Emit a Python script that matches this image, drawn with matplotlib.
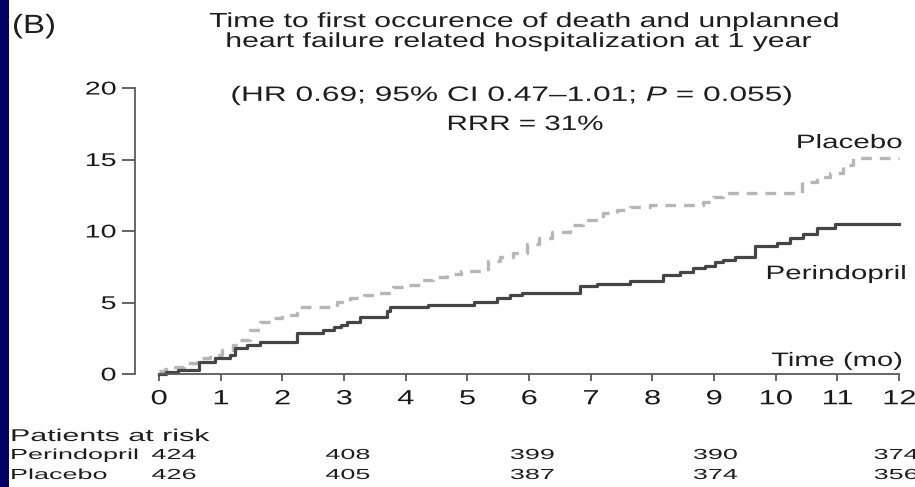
# Kaplan-Meier style cumulative event curves with a patients-at-risk table
import matplotlib
matplotlib.use("Agg")
from matplotlib import pyplot as plt
from matplotlib.transforms import blended_transform_factory, Affine2D
from matplotlib.patches import Rectangle
from matplotlib.patheffects import AbstractPathEffect

plt.rcParams['font.family'] = ['Liberation Sans', 'DejaVu Sans']
plt.rcParams['mathtext.fontset'] = 'custom'
plt.rcParams['mathtext.rm'] = 'Liberation Sans'
plt.rcParams['mathtext.it'] = 'Liberation Sans:italic'

# event times (months) and cumulative incidence (%) after each step
peri_t = [0, 0.12, 0.30, 0.65, 0.91, 1.15, 1.23, 1.42, 1.64, 2.24, 2.66, 2.83,
          2.95, 3.05, 3.26, 3.70, 3.75, 4.36, 5.10, 5.48, 5.69, 5.89, 6.83,
          7.10, 7.64, 8.18, 8.45, 8.66, 8.85, 9.02, 9.15, 9.34, 9.66, 10.02,
          10.23, 10.44, 10.67, 10.96, 12.0]
peri_y = [0.0, 0.15, 0.30, 0.86, 1.10, 1.33, 1.80, 2.00, 2.26, 2.86, 3.07, 3.30,
          3.45, 3.66, 3.98, 4.40, 4.68, 4.83, 5.06, 5.30, 5.52, 5.69, 6.15,
          6.30, 6.53, 6.92, 7.16, 7.39, 7.58, 7.81, 8.00, 8.20, 8.95, 9.18,
          9.49, 9.79, 10.19, 10.47, 10.47]

plac_t = [0, 0.10, 0.20, 0.40, 0.62, 0.83, 1.02, 1.20, 1.27, 1.48, 1.64, 1.85,
          2.00, 2.24, 2.89, 3.10, 3.33, 3.55, 3.80, 4.02, 4.24, 4.45, 4.67,
          4.90, 5.33, 5.53, 5.74, 5.97, 6.17, 6.37, 6.66, 6.87, 7.20, 7.42,
          7.64, 7.97, 8.82, 8.98, 9.14, 10.42, 10.67, 10.88, 11.09, 11.25, 12.0]
plac_y = [0.20, 0.35, 0.50, 0.79, 1.10, 1.33, 1.68, 2.00, 2.38, 3.08, 3.66, 3.92,
          4.13, 4.71, 5.06, 5.30, 5.52, 5.69, 6.06, 6.22, 6.57, 6.76, 6.99,
          7.22, 7.92, 8.16, 8.48, 9.09, 9.49, 9.95, 10.42, 10.77, 11.28, 11.47,
          11.66, 11.82, 12.05, 12.36, 12.68, 13.45, 13.80, 14.08, 14.62, 15.08, 15.08]

x_ticks = list(range(0, 13))
y_ticks = [0, 5, 10, 15, 20]

risk_months = [0, 3, 6, 9, 12]
risk_peri = [424, 408, 399, 390, 374]
risk_plac = [426, 405, 387, 374, 356]
# small horizontal nudges (months) for the table columns
risk_dx = [0.24, 0.06, 0.05, 0.02, -0.05]


class HStretch(AbstractPathEffect):
    """Draw glyphs wider than normal, pinned at the left/centre/right of each line."""

    def __init__(self, sx, frac=0.0):
        super().__init__()
        self.sx = sx
        self.frac = frac

    def draw_path(self, renderer, gc, tpath, affine, rgbFace=None):
        if len(tpath.vertices):
            x0 = self.frac * tpath.get_extents().x1
        else:
            x0 = 0
        st = Affine2D().translate(-x0, 0).scale(self.sx, 1).translate(x0, 0)
        renderer.draw_path(gc, tpath, st + affine, rgbFace)


FRAC = {'left': 0.0, 'center': 0.5, 'right': 1.0}


def wide(t, sx):
    t.set_path_effects([HStretch(sx, FRAC[t.get_horizontalalignment()])])
    return t


W, H = 915, 487
fig = plt.figure(figsize=(W / 100, H / 100), dpi=100)

# navy strip down the left edge
fig.patches.append(Rectangle((0, 0), 9 / W, 1, transform=fig.transFigure,
                             facecolor='#000066', edgecolor='none'))

ax = fig.add_axes([159 / W, 113 / H, 740 / W, 286 / H])
ax.set_xlim(0, 12)
ax.set_ylim(0, 20)

ax.step(plac_t, plac_y, where='post', color='#b6b6b6', lw=2.4,
        dashes=(3.2, 2.4), clip_on=False)
ax.step(peri_t, peri_y, where='post', color='#454545', lw=2.3, clip_on=False)

axis_col = '#5a5a5a'
for s in ['top', 'right']:
    ax.spines[s].set_visible(False)
ax.spines['left'].set_position(('outward', 17.3))
ax.spines['left'].set_bounds(0, 20)
ax.spines['bottom'].set_bounds(0, 12)
for s in ['left', 'bottom']:
    ax.spines[s].set_color(axis_col)
    ax.spines[s].set_linewidth(1.3)

ax.set_xticks(x_ticks)
ax.set_yticks(y_ticks)
ax.tick_params(axis='y', length=9.5, width=1.3, color=axis_col, pad=4,
               labelsize=13.3, labelcolor='#1a1a1a')
ax.tick_params(axis='x', length=5, width=1.3, color=axis_col, pad=6,
               labelsize=14.8, labelcolor='#1a1a1a')
for lab in ax.get_xticklabels():
    wide(lab, 1.5)
for lab in ax.get_yticklabels():
    wide(lab, 1.55)

txt = '#1e1e1e'
wide(ax.text(12.06, 15.8, 'Placebo', ha='right', va='baseline', fontsize=14,
             color=txt), 1.52)
wide(ax.text(12.13, 6.64, 'Perindopril', ha='right', va='baseline', fontsize=14,
             color=txt), 1.52)
wide(ax.text(12.06, 0.56, 'Time (mo)', ha='right', va='baseline', fontsize=14,
             color=txt), 1.5)


def fy(py):
    return 1 - py / H


wide(fig.text(12 / W, fy(33), '(B)', ha='left', va='baseline', fontsize=19,
              color=txt), 1.25)
wide(fig.text(524 / W, fy(27), 'Time to first occurence of death and unplanned',
              ha='center', va='baseline', fontsize=14.7, color=txt), 1.48)
wide(fig.text(518 / W, fy(47), 'heart failure related hospitalization at 1 year',
              ha='center', va='baseline', fontsize=14.7, color=txt), 1.48)
wide(fig.text(512 / W, fy(101), '(HR 0.69; 95% CI 0.47\u20131.01; $P$ = 0.055)',
              ha='center', va='baseline', fontsize=15, color=txt), 1.52)
wide(fig.text(525 / W, fy(130), 'RRR = 31%', ha='center', va='baseline',
              fontsize=15, color=txt), 1.42)

# patients at risk table
wide(fig.text(10 / W, fy(441), 'Patients at risk', ha='left', va='baseline',
              fontsize=12.3, color=txt), 1.78)
wide(fig.text(10 / W, fy(459), 'Perindopril', ha='left', va='baseline',
              fontsize=10.5, color=txt), 1.85)
wide(fig.text(10 / W, fy(479), 'Placebo', ha='left', va='baseline',
              fontsize=10.5, color=txt), 1.85)
tr = blended_transform_factory(ax.transData, fig.transFigure)
for m, dx, a, b in zip(risk_months, risk_dx, risk_peri, risk_plac):
    wide(ax.text(m + dx, fy(459), str(a), transform=tr, ha='center',
                 va='baseline', fontsize=10.5, color=txt, clip_on=False), 1.85)
    wide(ax.text(m + dx, fy(479), str(b), transform=tr, ha='center',
                 va='baseline', fontsize=10.5, color=txt, clip_on=False), 1.85)

fig.savefig('out.png', dpi=100, facecolor='white')
